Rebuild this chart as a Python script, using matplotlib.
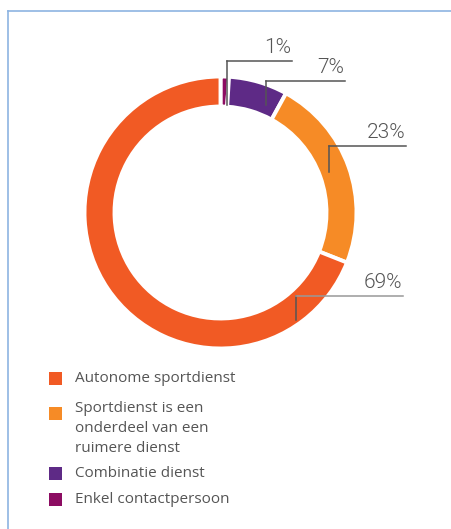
import matplotlib.pyplot as plt
from matplotlib.patches import Rectangle

W, H = 451, 529

categories = ["Autonome sportdienst",
              "Sportdienst is een\nonderdeel van een\nruimere dienst",
              "Combinatie dienst",
              "Enkel contactpersoon"]
values = [69, 23, 7, 1]
colors = ["#F15A24", "#F68B26", "#5E2A86", "#8C0C62"]

# pie order: clockwise from the top
pie_order = [3, 2, 1, 0]

fig = plt.figure(figsize=(W / 100, H / 100), dpi=100)
ax = fig.add_axes([0, 0, 1, 1])


def Y(py):
    return H - py


# frame lines
ax.plot([8, W], [Y(11), Y(11)], color="#8DB4E2", lw=1.2)
ax.plot([8, 8], [Y(11), 0], color="#8DB4E2", lw=1.2)

cx, cy, R = 220.5, Y(212.5), 136
ax.pie([values[i] for i in pie_order], colors=[colors[i] for i in pie_order],
       startangle=90, counterclock=False, center=(cx, cy), radius=R,
       wedgeprops=dict(width=30, edgecolor="white", linewidth=2.8), frame=True)
ax.set_xlim(0, W)
ax.set_ylim(0, H)
ax.axis("off")

# leader lines and labels: (vertical x, ring y, line y, line end x, line colour)
leaders = {
    1: (227, 105, 61, 292, "#555555"),
    7: (266, 105, 81, 345, "#555555"),
    23: (329, 172, 146, 406, "#555555"),
    69: (296, 320, 296, 403, "#999999"),
}
for v in [1, 7, 23, 69]:
    x0, ry, ly, x1, lc = leaders[v]
    ax.plot([x0, x0], [Y(ry), Y(ly)], color="#555555", lw=1.1)
    ax.plot([x0, x1], [Y(ly), Y(ly)], color=lc, lw=1.1)
    ax.text(x1 - 1, Y(ly) + 4, f"{v}%", ha="right", va="bottom",
            fontsize=15, family="Roboto", fontweight=300, color="#555555")

# legend
leg_y = [372, 407, 467, 493]
for i, name in enumerate(categories):
    ax.add_patch(Rectangle((49, Y(leg_y[i] + 13)), 13, 13, color=colors[i], lw=0))
    ty = leg_y[i] - 1 if i != 1 else leg_y[i] - 6
    ax.text(75, Y(ty), name, ha="left", va="top", fontsize=11,
            family="Open Sans", color="#555555", linespacing=1.45)

fig.savefig("out.png", dpi=100)
